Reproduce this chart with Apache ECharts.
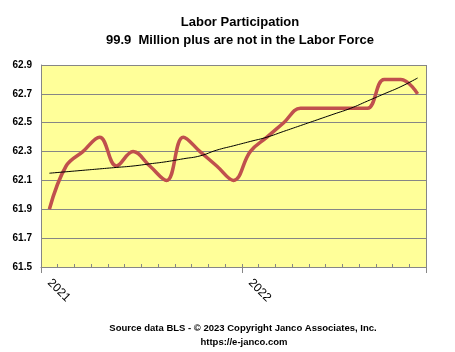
<!DOCTYPE html>
<html>
<head>
<meta charset="utf-8">
<script src="https://cdn.jsdelivr.net/npm/echarts@6/dist/echarts.min.js"></script>
<style>html,body{margin:0;padding:0;background:#fff;}</style>
</head>
<body>
<div id="main" style="width:455px;height:352px;"></div>
<script>
// months Jan 2021 .. Nov 2022
var months = ['2021-01','2021-02','2021-03','2021-04','2021-05','2021-06','2021-07','2021-08','2021-09','2021-10','2021-11','2021-12',
  '2022-01','2022-02','2022-03','2022-04','2022-05','2022-06','2022-07','2022-08','2022-09','2022-10','2022-11'];
var participation = [61.9, 62.2, 62.3, 62.4, 62.2, 62.3, 62.2, 62.1, 62.4, 62.3, 62.2, 62.1,
  62.3, 62.4, 62.5, 62.6, 62.6, 62.6, 62.6, 62.6, 62.8, 62.8, 62.7];
// trend line
var trend = [62.15, 62.16, 62.17, 62.18, 62.19, 62.20, 62.215, 62.23, 62.25, 62.27, 62.31, 62.34,
  62.37, 62.40, 62.44, 62.48, 62.52, 62.56, 62.60, 62.65, 62.70, 62.75, 62.81];

var font = 'Liberation Sans';
var myChart = echarts.init(document.getElementById('main'), null, {renderer: 'canvas'});

var option = {
  animation: false,
  title: [
    {text: 'Labor Participation', left: 235, top: 11, textAlign: 'center',
      textStyle: {fontFamily: font, fontSize: 13, fontWeight: 'bold', color: '#000'}},
    {text: '99.9  Million plus are not in the Labor Force', left: 235, top: 29, textAlign: 'center',
      textStyle: {fontFamily: font, fontSize: 13, fontWeight: 'bold', color: '#000'}},
    {text: 'Source data BLS - \u00a9 2023 Copyright Janco Associates, Inc.', left: 238, top: 318, textAlign: 'center',
      textStyle: {fontFamily: font, fontSize: 9.5, fontWeight: 'bold', color: '#000'}},
    {text: 'https://e-janco.com', left: 239, top: 332, textAlign: 'center',
      textStyle: {fontFamily: font, fontSize: 9.5, fontWeight: 'bold', color: '#000'}}
  ],
  grid: {left: 41, right: 29, top: 65, bottom: 85, backgroundColor: '#FFFF99', show: true, borderWidth: 0},
  xAxis: [
    {
      type: 'category', data: months, boundaryGap: true,
      axisLine: {lineStyle: {color: '#868686', width: 1}},
      axisTick: {show: true, inside: true, length: 3, interval: 0, lineStyle: {color: '#868686'}},
      axisLabel: {show: false},
      splitLine: {show: true, interval: function (i) { return i === 12; }, lineStyle: {color: '#868686', width: 1}}
    },
    {
      type: 'category', data: months, boundaryGap: true, position: 'bottom',
      axisLine: {show: false},
      axisTick: {show: true, length: 6, interval: function (i) { return i % 12 === 0; }, lineStyle: {color: '#868686'}},
      axisLabel: {
        interval: function (i) { return i % 12 === 0; }, rotate: -45, margin: 14,
        fontFamily: font, fontSize: 12, color: '#000',
        formatter: function (v) { return v.slice(0, 4); }
      },
      splitLine: {show: false}
    }
  ],
  yAxis: {
    type: 'value', min: 61.5, max: 62.9, interval: 0.2,
    axisLine: {show: true, lineStyle: {color: '#868686'}},
    axisTick: {show: false},
    axisLabel: {fontFamily: font, fontSize: 10, fontWeight: 'bold', color: '#000', margin: 9,
      formatter: function (v) { return v.toFixed(1); }},
    splitLine: {lineStyle: {color: '#868686', width: 1}}
  },
  series: [
    {
      type: 'line', name: 'Participation', data: participation, smooth: 0.4,
      symbol: 'none', lineStyle: {color: '#C0504D', width: 3.5}, z: 3
    },
    {
      type: 'line', name: 'Trend', data: trend, smooth: true,
      symbol: 'none', lineStyle: {color: '#000', width: 1}, z: 4
    }
  ]
};
myChart.setOption(option);
</script>
</body>
</html>
